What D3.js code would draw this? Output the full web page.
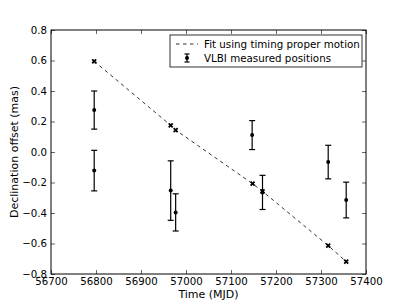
<!DOCTYPE html>
<html>
<head>
<meta charset="utf-8">
<script src="https://cdn.jsdelivr.net/npm/d3@7"></script>
<style>
  body { margin: 0; background: #fff; }
  text { font-family: "DejaVu Sans", sans-serif; }
</style>
</head>
<body>
<div id="chart"></div>
<script>
const width = 407;
const height = 305;
const margin = {top: 30, right: 41, bottom: 31, left: 51};

// timing fit (proper motion model)
const fitMjd = [56796, 56966, 56977, 57148, 57170, 57316, 57356];
const fitDec = [0.595, 0.175, 0.144, -0.208, -0.258, -0.614, -0.719];

// VLBI measurements
const vlbiMjd = [56796, 56796, 56966, 56977, 57147, 57170, 57316, 57356];
const vlbiDec = [0.275, -0.122, -0.253, -0.396, 0.111, -0.265, -0.066, -0.315];
const vlbiErr = [0.125, 0.133, 0.195, 0.122, 0.095, 0.112, 0.11, 0.117];

const xTicks = [56700, 56800, 56900, 57000, 57100, 57200, 57300, 57400];
const yTicks = [-0.8, -0.6, -0.4, -0.2, 0.0, 0.2, 0.4, 0.6, 0.8];

const svg = d3.select("#chart")
    .append("svg")
    .attr("width", width)
    .attr("height", height);

const x = d3.scaleLinear().domain([56700, 57400]).range([margin.left, width - margin.right]);
const y = d3.scaleLinear().domain([-0.8, 0.8]).range([height - margin.bottom, margin.top]);

const fmtY = d => d3.format(".1f")(d).replace("-", "\u2212");

// axes, ticks pointing inward like matplotlib classic
const gx = svg.append("g")
    .attr("transform", `translate(0,${height - margin.bottom})`)
    .call(d3.axisBottom(x).tickValues(xTicks).tickFormat(d3.format("d")).tickSizeInner(-4).tickSizeOuter(0).tickPadding(4));
const gxTop = svg.append("g")
    .attr("transform", `translate(0,${margin.top})`)
    .call(d3.axisTop(x).tickValues(xTicks).tickFormat("").tickSizeInner(-4).tickSizeOuter(0));
const gy = svg.append("g")
    .attr("transform", `translate(${margin.left},0)`)
    .call(d3.axisLeft(y).tickValues(yTicks).tickFormat(fmtY).tickSizeInner(-4).tickSizeOuter(0).tickPadding(4));
const gyRight = svg.append("g")
    .attr("transform", `translate(${width - margin.right},0)`)
    .call(d3.axisRight(y).tickValues(yTicks).tickFormat("").tickSizeInner(-4).tickSizeOuter(0));

[gx, gxTop, gy, gyRight].forEach(g => {
  g.select(".domain").remove();
  g.selectAll("line").attr("stroke", "#000").attr("stroke-width", 0.6);
  g.selectAll("text").attr("fill", "#000").style("font-size", "10.2px").style("font-family", "DejaVu Sans");
});

svg.append("rect")
    .attr("x", margin.left)
    .attr("y", margin.top)
    .attr("width", width - margin.left - margin.right)
    .attr("height", height - margin.top - margin.bottom)
    .attr("fill", "none")
    .attr("stroke", "#000")
    .attr("stroke-width", 1);

// dashed fit line
const fitPts = fitMjd.map((m, i) => [m, fitDec[i]]);
svg.append("path")
    .datum(fitPts)
    .attr("d", d3.line().x(d => x(d[0])).y(d => y(d[1])))
    .attr("fill", "none")
    .attr("stroke", "#000")
    .attr("stroke-width", 0.8)
    .attr("stroke-dasharray", "3.5,3.5");

// x markers
const cross = d3.symbol().type(d3.symbolX).size(12);
svg.selectAll("path.fitmark").data(fitPts)
  .join("path")
    .attr("class", "fitmark")
    .attr("d", cross)
    .attr("transform", d => `translate(${x(d[0])},${y(d[1])})`)
    .attr("fill", "none")
    .attr("stroke", "#000")
    .attr("stroke-width", 1.8);

// error bars
const vlbi = vlbiMjd.map((m, i) => ({mjd: m, dec: vlbiDec[i], err: vlbiErr[i]}));
const eb = svg.selectAll("g.eb").data(vlbi).join("g").attr("class", "eb");
eb.append("line")
    .attr("x1", d => x(d.mjd)).attr("x2", d => x(d.mjd))
    .attr("y1", d => y(d.dec - d.err)).attr("y2", d => y(d.dec + d.err))
    .attr("stroke", "#000").attr("stroke-width", 1.2);
[-1, 1].forEach(s => {
  eb.append("line")
      .attr("x1", d => x(d.mjd) - 3).attr("x2", d => x(d.mjd) + 3)
      .attr("y1", d => y(d.dec + s * d.err)).attr("y2", d => y(d.dec + s * d.err))
      .attr("stroke", "#000").attr("stroke-width", 1.2);
});
eb.append("circle")
    .attr("cx", d => x(d.mjd)).attr("cy", d => y(d.dec))
    .attr("r", 2).attr("fill", "#000");

// legend
const lg = svg.append("g").attr("transform", "translate(170,35)");
lg.append("rect").attr("width", 192).attr("height", 32)
    .attr("fill", "#fff").attr("stroke", "#000").attr("stroke-width", 0.8);
lg.append("line").attr("x1", 6).attr("x2", 28).attr("y1", 9).attr("y2", 9)
    .attr("stroke", "#000").attr("stroke-width", 0.8).attr("stroke-dasharray", "3.5,3.5");
lg.append("line").attr("x1", 17).attr("x2", 17).attr("y1", 19).attr("y2", 27)
    .attr("stroke", "#000").attr("stroke-width", 1.2);
[19, 27].forEach(v => lg.append("line").attr("x1", 14.5).attr("x2", 19.5).attr("y1", v).attr("y2", v)
    .attr("stroke", "#000").attr("stroke-width", 1.2));
lg.append("circle").attr("cx", 17).attr("cy", 23).attr("r", 2).attr("fill", "#000");
lg.append("text").attr("x", 34).attr("y", 12.5).style("font-size", "10.3px").text("Fit using timing proper motion");
lg.append("text").attr("x", 34).attr("y", 27).style("font-size", "10.3px").text("VLBI measured positions");

// axis titles
svg.append("text")
    .attr("x", (margin.left + width - margin.right) / 2)
    .attr("y", 298)
    .attr("text-anchor", "middle")
    .style("font-size", "11px")
    .text("Time (MJD)");
svg.append("text")
    .attr("transform", `translate(18,${(margin.top + height - margin.bottom) / 2}) rotate(-90)`)
    .attr("text-anchor", "middle")
    .style("font-size", "11px")
    .text("Declination offset (mas)");
</script>
</body>
</html>
